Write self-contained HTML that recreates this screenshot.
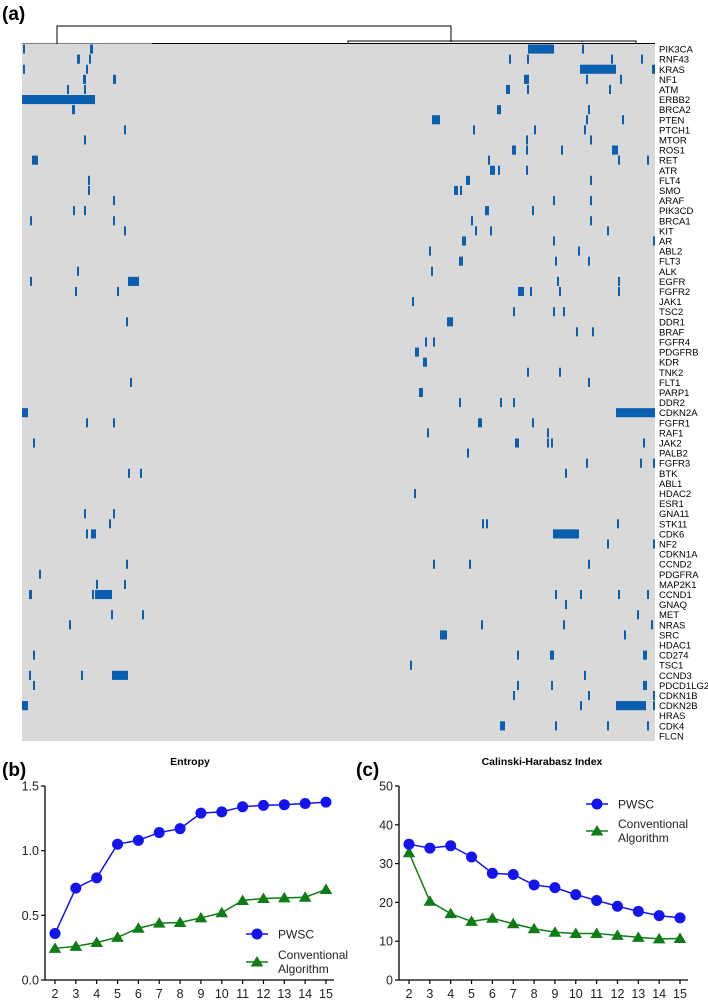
<!DOCTYPE html>
<html><head><meta charset="utf-8"><style>
body{margin:0;background:#fff;}
svg{display:block;font-family:"Liberation Sans",Arial,sans-serif;}
</style></head><body>
<svg id="fig" width="708" height="1000" viewBox="0 0 708 1000">
<text x="2" y="20" font-size="19" font-weight="bold">(a)</text>
<g id="dendro" stroke="#000" stroke-width="1" fill="none">
<path d="M57,44V26H451V42"/>
<path d="M22,44H152M152,43.5H655"/>
<path d="M348,43V41H582V42M582,41H636V43"/>
</g>
<rect x="22" y="44" width="633" height="697" fill="#d9d9d9"/>
<g id="cells"></g>
<g id="genes"></g>
<text x="2" y="776" font-size="19" font-weight="bold">(b)</text>
<text x="356" y="776" font-size="19" font-weight="bold">(c)</text>
<g id="chartB"></g>
<g id="chartC"></g>
</svg>
<script>
const genes=["PIK3CA","RNF43","KRAS","NF1","ATM","ERBB2","BRCA2","PTEN","PTCH1","MTOR","ROS1","RET","ATR","FLT4","SMO","ARAF","PIK3CD","BRCA1","KIT","AR","ABL2","FLT3","ALK","EGFR","FGFR2","JAK1","TSC2","DDR1","BRAF","FGFR4","PDGFRB","KDR","TNK2","FLT1","PARP1","DDR2","CDKN2A","FGFR1","RAF1","JAK2","PALB2","FGFR3","BTK","ABL1","HDAC2","ESR1","GNA11","STK11","CDK6","NF2","CDKN1A","CCND2","PDGFRA","MAP2K1","CCND1","GNAQ","MET","NRAS","SRC","HDAC1","CD274","TSC1","CCND3","PDCD1LG2","CDKN1B","CDKN2B","HRAS","CDK4","FLCN"];
// heatmap altered cells (row index, start sample, width in samples)
const cellRows=[
0,0,0,0, 1,1,1,1,1,1, 2,2,2,2, 3,3,3,3,3, 4,4,4,4,4, 5, 6,6,6, 7,7,7, 8,8,8,8, 9,9,9, 10,10,10,10, 11,11,11,11, 12,12,12, 13,13,13, 14,14,14, 15,15,15, 16,16,16,16, 17,17,17,17, 18,18,18,18, 19,19,19, 20,20, 21,21,21, 22,22, 23,23,23,23, 24,24,24,24,24,24, 25, 26,26,26, 27,27, 28,28, 29,29, 30, 31, 32,32, 33,33, 34, 35,35,35, 36,36, 37,37,37,37, 38,38, 39,39,39,39,39, 40, 41,41,41, 42,42,42, 44, 46,46, 47,47,47,47, 48,48,48, 49,49, 51,51,51,51, 52, 53,53, 54,54,54,54,54,54,54, 55, 56,56,56, 57,57,57,57, 58,58, 60,60,60,60, 61, 62,62,62,62, 63,63,63,63, 64,64,64, 65,65,65,65, 67,67,67,67];
const cellStarts=[
1,68,506,560, 55,67,487,505,589,619, 1,64,558,630, 61,91,502,564,598, 45,62,484,505,587, 0, 50,475,566, 410,564,600, 102,451,512,562, 62,504,568, 490,504,539,590, 10,466,596,625, 468,476,504, 66,444,568, 66,432,438, 91,531,568, 51,62,463,510, 8,91,449,568, 102,453,468,585, 440,531,631, 407,556, 437,533,566, 55,409, 8,106,535,596, 53,95,496,508,537,596, 390, 491,531,541, 104,425, 554,570, 403,411, 393, 401, 505,537, 108,566, 397, 437,478,491, 0,594, 64,91,456,510, 405,525, 11,493,525,529,621, 445, 564,618,631, 106,118,543, 392, 62,91, 87,460,464,595, 64,69,531, 585,631, 104,411,447,566, 17, 74,102, 7,70,73,533,558,596,625, 543, 89,120,615, 47,459,541,629, 418,602, 11,495,528,621, 388, 7,59,90,562, 11,495,529,621, 491,566,631, 0,558,594,631, 478,533,585,625];
const cellWidths=[
2,3,26,2, 3,2,2,2,2,2, 2,2,36,3, 3,3,5,2,2, 2,2,4,2,2, 73, 3,4,2, 8,2,2, 2,2,2,2, 2,2,2, 4,2,2,6, 6,2,2,2, 5,2,2, 2,4,2, 2,4,2, 2,2,2, 2,2,4,2, 2,2,2,2, 2,2,2,2, 4,2,2, 2,2, 4,2,2, 2,2, 2,11,2,2, 2,2,6,2,2,2, 2, 2,2,2, 2,6, 2,2, 2,2, 4, 4, 2,2, 2,2, 4, 2,2,2, 6,39, 2,2,4,2, 2,2, 2,4,2,2,2, 2, 2,2,2, 2,2,2, 2, 2,2, 2,2,2,2, 2,5,26, 2,2, 2,2,2,2, 2, 2,2, 3,2,17,2,2,2,2, 2, 2,2,2, 2,2,2,2, 7,2, 2,2,4,4, 2, 2,2,16,2, 2,2,2,4, 2,2,2, 6,2,30,2, 5,2,2,2];
const NS="http://www.w3.org/2000/svg";
function mk(tag,attrs,parent){const e=document.createElementNS(NS,tag);for(const k in attrs)e.setAttribute(k,attrs[k]);parent.appendChild(e);return e;}
const hx0=22,hy0=44,rowH=697/genes.length;
const sx=v=>hx0+v;
const sy=r=>hy0+r*rowH;
const cellG=document.getElementById('cells');
const gs=document.getElementById('genes');
genes.forEach((g,i)=>{
  const t=mk('text',{x:659,y:sy(i)+rowH/2+3.5,'font-size':9.5,fill:'#000'},gs);
  t.textContent=g;
  
  
});
cellRows.forEach((r,i)=>{
  const w=cellWidths[i]===undefined?2:cellWidths[i];
  const c=mk('rect',{x:sx(cellStarts[i]||0),y:sy(r)+0.5,width:w,height:rowH-1,fill:'#0a5fb0'},cellG);
  
  
});

// line charts
const ks=[2,3,4,5,6,7,8,9,10,11,12,13,14,15];
const entropyPWSC=[0.36,0.71,0.79,1.05,1.08,1.14,1.17,1.29,1.30,1.34,1.35,1.355,1.365,1.375];
const entropyConv=[0.245,0.26,0.29,0.33,0.40,0.44,0.445,0.48,0.52,0.615,0.63,0.635,0.64,0.70];
const chPWSC=[35,34,34.6,31.7,27.5,27.2,24.5,23.8,22,20.5,19,17.7,16.6,16];
const chConv=[32.8,20.3,17.1,15.1,15.9,14.5,13.2,12.3,12,12,11.5,11,10.6,10.7];
const entropyTicks=["0.0","0.5","1.0","1.5"];
const chTicks=["0","10","20","30","40","50"];
const BLUE="#1414f0",GREEN="#0e7d14";
function tri(cx,cy,s){return `M${cx},${cy-s}L${cx+s*1.05},${cy+s*0.75}L${cx-s*1.05},${cy+s*0.75}Z`;}
function chart(gid,ox,ymax,ticks,s1,s2,title,titleX,leg){
  const g=document.getElementById(gid);
  const x0=ox+10,x1=ox+281,yTop=786,yBot=980;
  const X=k=>x0+(k-2)*(x1-x0)/13, Y=v=>yBot-v/ymax*(yBot-yTop);
  const t=mk('text',{x:titleX,y:765,'font-size':10.5,'font-weight':'bold','text-anchor':'middle'},g);t.textContent=title;
  
  
  mk('path',{d:`M${ox},${yTop}V${yBot}H${x1+8}`,stroke:'#000','stroke-width':1.3,fill:'none'},g);
  ticks.forEach((lab,i)=>{const v=ymax*i/(ticks.length-1);const y=Y(v);
    mk('path',{d:`M${ox-4},${y}H${ox}`,stroke:'#000','stroke-width':1.2},g);
    const tt=mk('text',{x:ox-6,y:y+4.5,'font-size':12.5,'text-anchor':'end',fill:'#222'},g);tt.textContent=lab;
    
    });
  ks.forEach(k=>{mk('path',{d:`M${X(k)},${yBot}V${yBot+4}`,stroke:'#000','stroke-width':1.2},g);
    const tt=mk('text',{x:X(k),y:998,'font-size':12.5,'text-anchor':'middle',fill:'#222'},g);tt.textContent=k;
    
    });
  const l2=mk('polyline',{points:ks.map((k,i)=>X(k)+','+Y(s2[i])).join(' '),stroke:GREEN,'stroke-width':1.5,fill:'none'},g);
  
  
  const l1=mk('polyline',{points:ks.map((k,i)=>X(k)+','+Y(s1[i])).join(' '),stroke:BLUE,'stroke-width':1.5,fill:'none'},g);
  
  
  ks.forEach((k,i)=>{const p=mk('path',{d:tri(X(k),Y(s2[i]),6),fill:GREEN},g);
    
    });
  ks.forEach((k,i)=>{const c=mk('circle',{cx:X(k),cy:Y(s1[i]),r:5.5,fill:BLUE},g);
    
    });
  const [lx,ly1,ly2]=leg;
  mk('path',{d:`M${lx-11},${ly1}H${lx+11}`,stroke:BLUE,'stroke-width':1.5},g);
  const lc=mk('circle',{cx:lx,cy:ly1,r:5.5,fill:BLUE},g);
  
  
  const a=mk('text',{x:lx+21,y:ly1+4.5,'font-size':12,fill:'#222'},g);a.textContent='PWSC';
  mk('path',{d:`M${lx-11},${ly2}H${lx+11}`,stroke:GREEN,'stroke-width':1.5},g);
  const lt=mk('path',{d:tri(lx,ly2,6),fill:GREEN},g);
  
  
  const b=mk('text',{x:lx+21,y:ly2-3,'font-size':12,fill:'#222'},g);b.textContent='Conventional';
  const c2=mk('text',{x:lx+21,y:ly2+11,'font-size':12,fill:'#222'},g);c2.textContent='Algorithm';
}
chart('chartB',45,1.5,entropyTicks,entropyPWSC,entropyConv,'Entropy',190,[257,934,962]);
chart('chartC',399,50,chTicks,chPWSC,chConv,'Calinski-Harabasz Index',542,[597,804,831]);
</script>
</body></html>
